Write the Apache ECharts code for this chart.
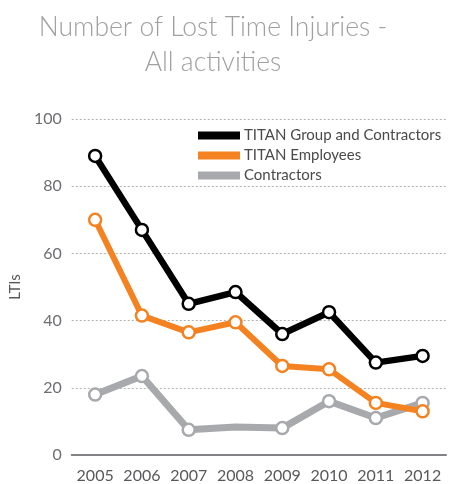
<!DOCTYPE html>
<html>
<head>
<meta charset="utf-8">
<script src="https://cdn.jsdelivr.net/npm/echarts@6/dist/echarts.min.js"></script>
<style>
  html, body { margin: 0; padding: 0; background: #fff; }
  #chart { width: 450px; height: 484px; }
</style>
</head>
<body>
<div id="chart"></div>
<script>
const years = ['2005', '2006', '2007', '2008', '2009', '2010', '2011', '2012'];
const groupAndContractors = [89, 67, 45, 48.5, 36, 42.5, 27.5, 29.5];
const employees = [70, 41.5, 36.5, 39.5, 26.5, 25.5, 15.5, 13];
const contractors = [18, 23.5, 7.5, 8.3, 8, 16, 11, 15.5];
const noMarker = [false, false, false, true, false, false, false, false];

const font = 'Lato, "Open Sans", sans-serif';

function lineSeries(name, data, color, width) {
  return {
    name,
    type: 'line',
    data: data.map((v, i) => (name === 'Contractors' && noMarker[i])
      ? { value: v, symbol: 'none' } : v),
    symbol: 'circle',
    symbolSize: 12,
    showAllSymbol: true,
    lineStyle: { color, width },
    itemStyle: { color: '#fff', borderColor: color, borderWidth: 2.5 },
    emphasis: { disabled: true },
    animation: false
  };
}

const chart = echarts.init(document.getElementById('chart'));
chart.setOption({
  backgroundColor: '#fff',
  textStyle: { fontFamily: font },
  title: {
    text: 'Number of Lost Time Injuries -\nAll activities',
    left: 208,
    top: 5,
    textAlign: 'center',
    textStyle: {
      color: '#a0a0a0',
      fontSize: 26.5,
      fontWeight: 300,
      lineHeight: 35,
      fontFamily: font
    }
  },
  legend: {
    orient: 'vertical',
    left: 193,
    top: 123,
    itemWidth: 40,
    itemHeight: 6,
    itemGap: 5,
    icon: 'rect',
    textStyle: { color: '#4a4a4a', fontSize: 15, fontFamily: font },
    data: [
      { name: 'TITAN Group and Contractors', itemStyle: { color: '#000' } },
      { name: 'TITAN Employees', itemStyle: { color: '#f58220' } },
      { name: 'Contractors', itemStyle: { color: '#a7a9ac' } }
    ]
  },
  grid: { left: 58, right: 4, top: 119, bottom: 29 },
  xAxis: {
    type: 'category',
    data: years,
    boundaryGap: true,
    axisLine: { lineStyle: { color: '#808285', width: 2 } },
    axisTick: { inside: true, length: 6, lineStyle: { color: '#808285', width: 2 } },
    axisLabel: { color: '#58595b', fontSize: 16, margin: 13, interval: 0 }
  },
  yAxis: {
    type: 'value',
    min: 0,
    max: 100,
    interval: 20,
    name: 'LTIs',
    nameLocation: 'middle',
    nameGap: 38,
    nameTextStyle: { color: '#58595b', fontSize: 15 },
    axisLine: { show: false },
    axisTick: { show: false },
    axisLabel: { color: '#6d6e71', fontSize: 16, margin: 10 },
    splitLine: { lineStyle: { color: '#b0b0b0', type: [2, 2], width: 1 } }
  },
  series: [
    lineSeries('Contractors', contractors, '#a7a9ac', 7),
    lineSeries('TITAN Employees', employees, '#f58220', 6),
    lineSeries('TITAN Group and Contractors', groupAndContractors, '#000', 6.5)
  ]
});
</script>
</body>
</html>
